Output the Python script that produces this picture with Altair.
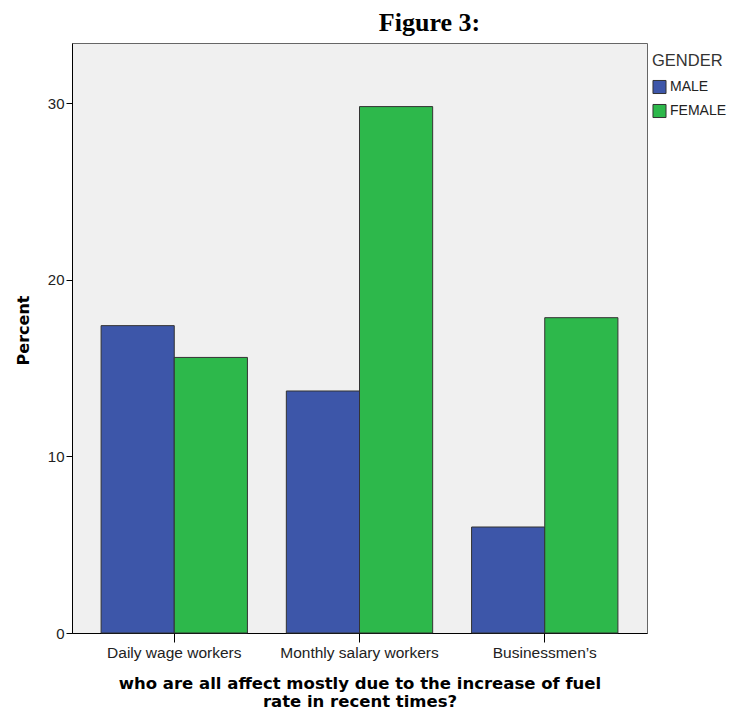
import altair as alt
import pandas as pd

categories = ["Daily wage workers", "Monthly salary workers", "Businessmen’s"]
genders = ["MALE", "FEMALE"]
male_pct = [17.4, 13.7, 6.0]
female_pct = [15.6, 29.8, 17.85]

rows = []
for i, c in enumerate(categories):
    rows.append({"cat": c, "gender": "MALE", "pct": male_pct[i]})
    rows.append({"cat": c, "gender": "FEMALE", "pct": female_pct[i]})
df = pd.DataFrame(rows)

chart = alt.Chart(df).mark_bar(stroke="#333333", strokeWidth=1).encode(
    x=alt.X("cat:N", sort=categories,
            scale=alt.Scale(paddingInner=0.21, paddingOuter=0.157),
            axis=alt.Axis(title=["who are all affect mostly due to the increase of fuel",
                                 "rate in recent times?"],
                          titleFont="DejaVu Sans", titleFontSize=16.5, titleFontWeight="bold",
                          titleColor="#000000", titleLineHeight=18, titlePadding=15,
                          labelAngle=0, labelFont="Liberation Sans", labelFontSize=15.5,
                          labelColor="#222222", labelPadding=3,
                          tickSize=9, tickColor="#000000", domainColor="#000000")),
    xOffset=alt.XOffset("gender:N", sort=genders),
    y=alt.Y("pct:Q", scale=alt.Scale(domain=[0, 33.4], nice=False),
            axis=alt.Axis(title="Percent", values=[0, 10, 20, 30], grid=False,
                          titleFont="DejaVu Sans", titleFontSize=16, titleFontWeight="bold",
                          titleColor="#000000", titlePadding=16, titleY=287,
                          labelFont="Liberation Sans", labelFontSize=15, labelColor="#222222",
                          labelPadding=2, tickSize=6, tickColor="#000000",
                          domainColor="#000000")),
    color=alt.Color("gender:N", sort=genders,
                    scale=alt.Scale(domain=genders, range=["#3D56A9", "#2DB84B"]),
                    legend=alt.Legend(title="GENDER", titleFont="Liberation Sans",
                                      titleFontSize=16.5, titleFontWeight="normal",
                                      titleColor="#333333", titlePadding=10,
                                      labelFont="Liberation Sans", labelFontSize=14,
                                      labelColor="#222222", symbolType="square",
                                      symbolSize=170, symbolStrokeColor="#333333",
                                      symbolStrokeWidth=1, symbolOpacity=1,
                                      orient="none", legendX=580, legendY=10,
                                      padding=0, rowPadding=5, labelOffset=3)),
).properties(
    width=575, height=590,
    title=alt.TitleParams("Figure 3:", font="Liberation Serif", fontSize=26,
                          fontWeight="bold", color="#000000", anchor="middle",
                          dx=70, offset=7),
    padding={"left": 7, "top": 2, "right": 0, "bottom": 0},
).configure_view(
    fill="#F0F0F0", stroke="#666666", strokeWidth=1
).configure_axis(
    domainWidth=1
)

chart.save("out.html", embed_options={"renderer": "svg", "actions": False})
